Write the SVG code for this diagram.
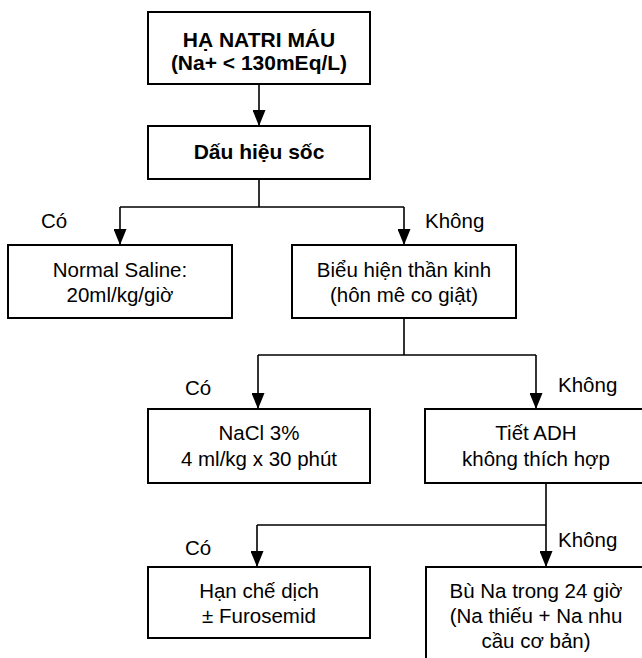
<svg xmlns="http://www.w3.org/2000/svg" width="642" height="658" viewBox="0 0 642 658">
<style>
.box{fill:#fff;stroke:#000;stroke-width:2}
.t{font-family:"Liberation Sans",Arial,sans-serif;font-size:20.5px;fill:#000;text-anchor:middle}
.b{font-weight:bold;font-size:21px}
.lbl{font-family:"Liberation Sans",Arial,sans-serif;font-size:20.5px;fill:#000}
.c{fill:none;stroke:#000;stroke-width:1.6}
.a{marker-end:url(#arr)}
</style>
<defs>
<marker id="arr" markerUnits="userSpaceOnUse" markerWidth="16" markerHeight="13" refX="16" refY="6.5" orient="auto">
<path d="M0,0 L16,6.5 L0,13 z" fill="#000"/>
</marker>
</defs>
<rect width="642" height="658" fill="#fff"/>
<g id="connectors">
<path class="c a" d="M259,84 V126"/>
<path class="c" d="M259,179 V207 M120,207 H404"/>
<path class="c a" d="M120,207 V245"/>
<path class="c a" d="M404,207 V245"/>
<path class="c" d="M404,318 V355 M258,355 H536"/>
<path class="c a" d="M258,355 V409"/>
<path class="c a" d="M536,355 V409"/>
<path class="c" d="M546,483 V525 M257,525 H546"/>
<path class="c a" d="M257,525 V567"/>
<path class="c a" d="M546,525 V567"/>
</g>
<g id="labels">
<text class="lbl" x="41" y="228">Có</text>
<text class="lbl" x="425" y="228">Không</text>
<text class="lbl" x="185" y="395">Có</text>
<text class="lbl" x="558" y="392">Không</text>
<text class="lbl" x="185" y="555">Có</text>
<text class="lbl" x="558" y="547">Không</text>
</g>
<g id="n1">
<rect class="box" x="148" y="12" width="222" height="72"/>
<text class="t b" x="259" y="47">HẠ NATRI MÁU</text>
<text class="t b" x="259" y="70">(Na+ &lt; 130mEq/L)</text>
</g>
<g id="n2">
<rect class="box" x="148" y="126" width="222" height="53"/>
<text class="t b" x="259" y="159">Dấu hiệu sốc</text>
</g>
<g id="n3">
<rect class="box" x="8" y="245" width="224" height="73"/>
<text class="t" x="120" y="277">Normal Saline:</text>
<text class="t" x="120" y="302">20ml/kg/giờ</text>
</g>
<g id="n4">
<rect class="box" x="292" y="245" width="224" height="73"/>
<text class="t" x="404" y="277">Biểu hiện thần kinh</text>
<text class="t" x="404" y="302">(hôn mê co giật)</text>
</g>
<g id="n5">
<rect class="box" x="148" y="409" width="222" height="74"/>
<text class="t" x="259" y="440">NaCl 3%</text>
<text class="t" x="259" y="466">4 ml/kg x 30 phút</text>
</g>
<g id="n6">
<rect class="box" x="425" y="409" width="230" height="74"/>
<text class="t" x="536" y="440">Tiết ADH</text>
<text class="t" x="536" y="466">không thích hợp</text>
</g>
<g id="n7">
<rect class="box" x="148" y="567" width="222" height="71"/>
<text class="t" x="259" y="598">Hạn chế dịch</text>
<text class="t" x="259" y="623">± Furosemid</text>
</g>
<g id="n8">
<rect class="box" x="426" y="567" width="230" height="105"/>
<text class="t" x="536" y="598">Bù Na trong 24 giờ</text>
<text class="t" x="536" y="623">(Na thiếu + Na nhu</text>
<text class="t" x="536" y="648">cầu cơ bản)</text>
</g>
</svg>
